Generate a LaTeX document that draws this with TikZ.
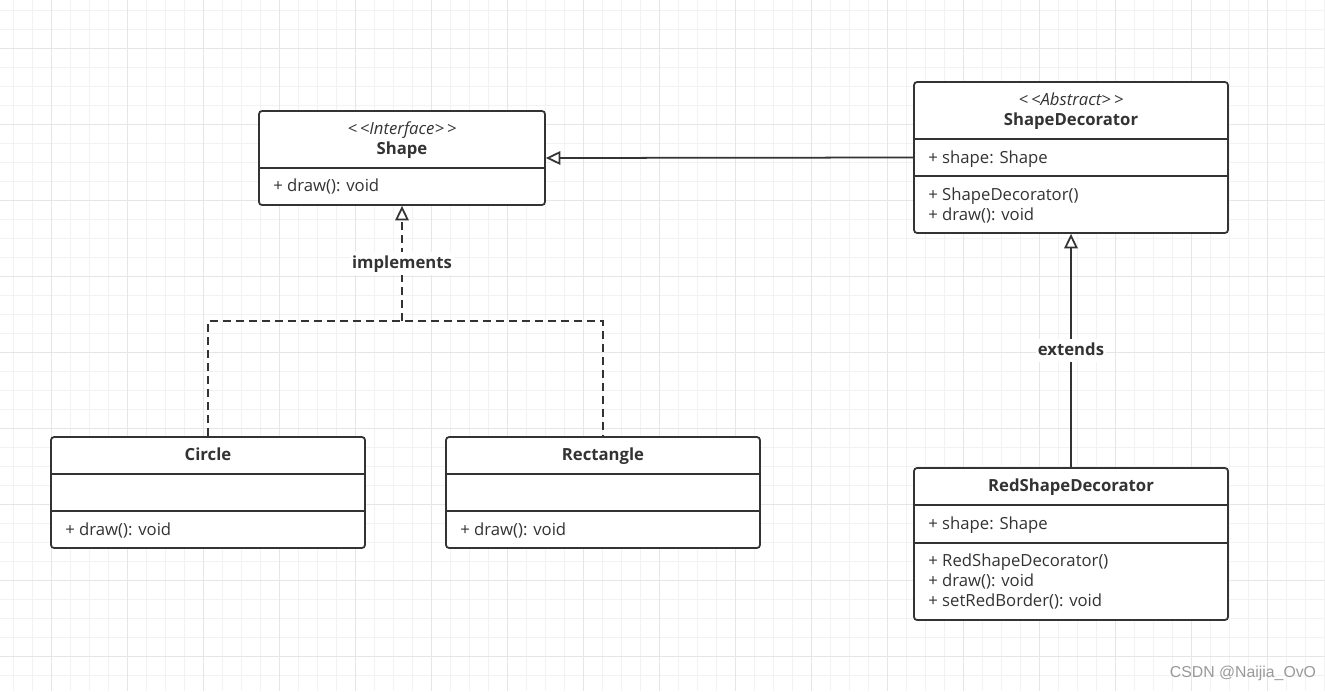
\documentclass[tikz,border=0pt]{standalone}
\usepackage{fontspec}
\setmainfont{Open Sans}
\newfontfamily\markfont{Liberation Sans}
\usetikzlibrary{arrows.meta,calc}
\definecolor{ink}{HTML}{333333}
\definecolor{gridlo}{HTML}{F2F2F2}
\definecolor{gridhi}{HTML}{E6E6E6}

\begin{document}
\begin{tikzpicture}
  [x=0.02cm,y=-0.02cm,
   every node/.style={text=ink,font=\fontsize{9.5}{11}\selectfont,text height=1.6ex,text depth=0.45ex},
   umlbox/.style={draw=ink,line width=1pt,rounded corners=0.06cm,fill=white,inner sep=0pt},
   divider/.style={draw=ink,line width=1pt},
   member/.style={anchor=west,inner sep=0pt},
   cname/.style={font=\fontsize{9.5}{11}\selectfont\bfseries},
   stereo/.style={font=\fontsize{9.5}{11}\selectfont\itshape},
   link/.style={draw=ink,line width=1pt},
   hollow/.style={-{Triangle[open,length=0.29cm,width=0.27cm]}},
   lbl/.style={fill=white,font=\fontsize{9.5}{11}\selectfont\bfseries,inner sep=1pt}]
  \useasboundingbox (0,0) rectangle (1325,691);
  \fill[white] (0,0) rectangle (1325,691);

  % grid
  \foreach \gx in {13,32,...,1325} \draw[gridlo,line width=0.5pt] (\gx,0) -- (\gx,691);
  \foreach \gy in {10,29,...,691} \draw[gridlo,line width=0.5pt] (0,\gy) -- (1325,\gy);
  \foreach \gx in {51,127,...,1325} \draw[gridhi,line width=0.5pt] (\gx,0) -- (\gx,691);
  \foreach \gy in {48,124,...,691} \draw[gridhi,line width=0.5pt] (0,\gy) -- (1325,\gy);

  % classes
  \node[umlbox,minimum width=5.72cm,minimum height=1.88cm] (shape) at (402,158) {};
  \node[umlbox,minimum width=6.28cm,minimum height=3.02cm] (sdec) at (1071,157.5) {};
  \node[umlbox,minimum width=6.28cm,minimum height=2.22cm] (circle) at (208,492.5) {};
  \node[umlbox,minimum width=6.28cm,minimum height=2.22cm] (rect) at (603,492.5) {};
  \node[umlbox,minimum width=6.28cm,minimum height=3.04cm] (red) at (1071,544) {};

  \draw[divider] (259,168) -- (545,168);
  \draw[divider] (914,139) -- (1228,139);
  \draw[divider] (914,176) -- (1228,176);
  \draw[divider] (51,474) -- (365,474);
  \draw[divider] (51,511) -- (365,511);
  \draw[divider] (446,474) -- (760,474);
  \draw[divider] (446,511) -- (760,511);
  \draw[divider] (914,505) -- (1228,505);
  \draw[divider] (914,543) -- (1228,543);

  \node[stereo] (shapest) at (402,129) {\textless\,\textless Interface\textgreater\,\textgreater};
  \node[cname] (shapenm) at (402,149) {Shape};
  \node[member] (shapem1) at (273,186) {+ draw(): void};

  \node[stereo] (sdecst) at (1071,100) {\textless\,\textless Abstract\textgreater\,\textgreater};
  \node[cname] (sdecnm) at (1071,120) {ShapeDecorator};
  \node[member] (sdeca1) at (928,158) {+ shape: Shape};
  \node[member] (sdecm1) at (928,195) {+ ShapeDecorator()};
  \node[member] (sdecm2) at (928,215) {+ draw(): void};

  \node[cname] (circlenm) at (208,455) {Circle};
  \node[member] (circlem1) at (65,530) {+ draw(): void};

  \node[cname] (rectnm) at (603,455) {Rectangle};
  \node[member] (rectm1) at (460,530) {+ draw(): void};

  \node[cname] (rednm) at (1071,486) {RedShapeDecorator};
  \node[member] (reda1) at (928,524) {+ shape: Shape};
  \node[member] (redm1) at (928,561) {+ RedShapeDecorator()};
  \node[member] (redm2) at (928,581) {+ draw(): void};
  \node[member] (redm3) at (928,601) {+ setRedBorder(): void};

  % relations
  \coordinate (joint) at (402,321);
  \draw[link,dash pattern=on 0.16cm off 0.1cm] (circle.north) |- (joint) -| (rect.north);
  \draw[link,hollow,dash pattern=on 0.16cm off 0.1cm] (joint) -- node[lbl] {implements} (shape.south);
  \draw[link,hollow] (red.north) -- node[lbl] {extends} (sdec.south);
  \draw[link,hollow] (sdec.west) -- (shape.east);

  \node[text=gray!80,font=\markfont\fontsize{9}{11}\selectfont] (mark) at (1243,672) {CSDN @Naijia\_OvO};
\end{tikzpicture}
\end{document}
